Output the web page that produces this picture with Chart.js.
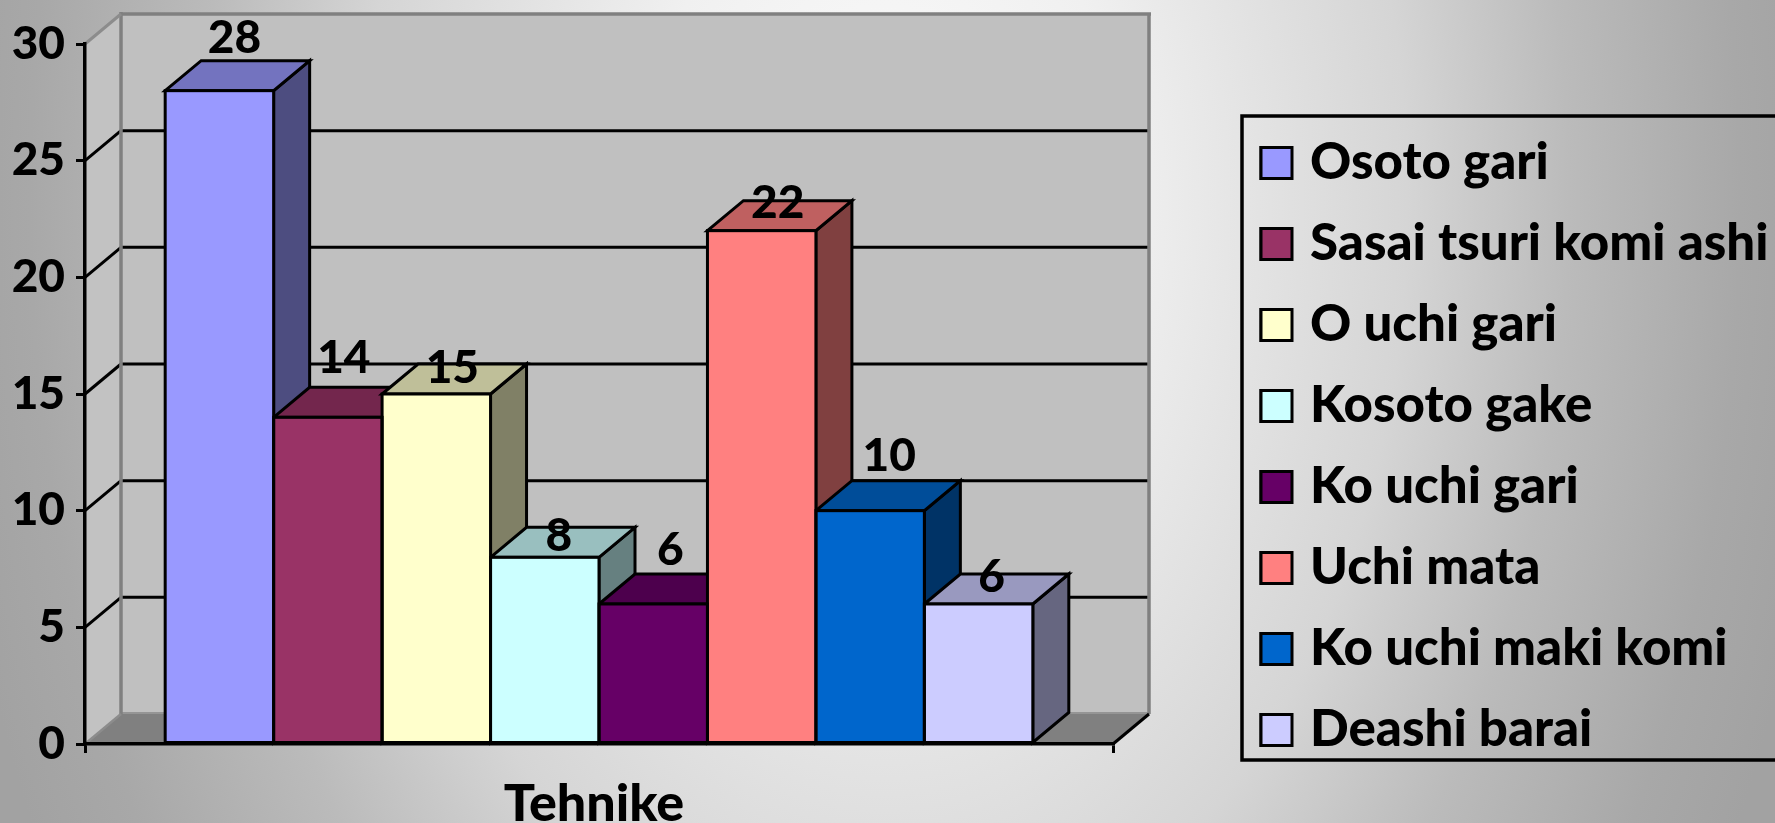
<!DOCTYPE html>
<html>
<head>
<meta charset="utf-8">
<style>html,body{margin:0;padding:0;background:#ccc;overflow:hidden}canvas{display:block}</style>
<script src="https://cdn.jsdelivr.net/npm/chart.js@4/dist/chart.umd.min.js"></script>
</head>
<body>
<canvas id="c" width="1775" height="823"></canvas>
<script>
const categories = ['Tehnike'];
const seriesNames = ['Osoto gari','Sasai tsuri komi ashi','O uchi gari','Kosoto gake','Ko uchi gari','Uchi mata','Ko uchi maki komi','Deashi barai'];
const seriesValues = [28,14,15,8,6,22,10,6];
const seriesColors = ['#9999FF','#993366','#FFFFCC','#CCFFFF','#660066','#FF8080','#0066CC','#CCCCFF'];
const yTicks = [0,5,10,15,20,25,30];

const FONT = 'Lato';
const WEIGHT = 900;
const FS_TEXT = 51;
const FS_NUM = 46;
const DX = 36, DY = 30;
const labelLift = [52,59,26,21,54,27,54,27];
const labelShift = [15,16,16,14,17,16,19,13];

function shade(hex,f){
  const n=parseInt(hex.slice(1),16);
  return `rgb(${Math.round((n>>16&255)*f)},${Math.round((n>>8&255)*f)},${Math.round((n&255)*f)})`;
}
function poly(ctx,pts,fill,stroke,lw){
  ctx.beginPath();
  pts.forEach((p,i)=>i?ctx.lineTo(p[0],p[1]):ctx.moveTo(p[0],p[1]));
  ctx.closePath();
  if(fill){ctx.fillStyle=fill;ctx.fill();}
  if(stroke){ctx.strokeStyle=stroke;ctx.lineWidth=lw;ctx.lineJoin='miter';ctx.stroke();}
}
function line(ctx,x1,y1,x2,y2,col,lw){
  ctx.beginPath();ctx.moveTo(x1,y1);ctx.lineTo(x2,y2);ctx.strokeStyle=col;ctx.lineWidth=lw;ctx.stroke();
}

const scene = {
  id:'scene',
  beforeLayout(chart){
    const l=chart.legend;
    if(l && !l.__wrapped){
      const fit=l.fit.bind(l);
      l.fit=function(){fit();this.width=0;};
      l.__wrapped=true;
    }
  },
  afterLayout(chart){
    const l=chart.legend;
    if(!l) return;
    const left=1231, top=107.5;
    const dx=left-l.left, dy=top-l.top;
    l.left=left;l.top=top;l.right=1775;l.bottom=823;l.width=544;l.height=715.5;
    (l.legendHitBoxes||[]).forEach(b=>{b.left+=dx;b.top+=dy;});
  },
  beforeDraw(chart){
    const ctx=chart.ctx,{width:W,height:H}=chart;
    const x=chart.scales.x,y=chart.scales.y;
    // background
    ctx.save();
    ctx.translate(885,200);ctx.scale(1,1.5);
    const g=ctx.createRadialGradient(0,0,0,0,0,950);
    g.addColorStop(0,'#fbfbfb');g.addColorStop(.25,'#f0f0f0');g.addColorStop(.55,'#d5d5d5');
    g.addColorStop(.72,'#bbbbbb');g.addColorStop(.9,'#a8a8a8');g.addColorStop(1,'#a2a2a2');
    ctx.fillStyle=g;ctx.fillRect(-885,-200,W,H);
    ctx.restore();
    // walls
    const L=x.left,R=x.right,B=y.getPixelForValue(0),T=y.getPixelForValue(30);
    ctx.save();
    ctx.lineCap='butt';
    poly(ctx,[[L+DX,T-DY],[R+DX,T-DY],[R+DX,B-DY],[L+DX,B-DY]],'#c0c0c0');
    poly(ctx,[[L,T],[L+DX,T-DY],[L+DX,B-DY],[L,B]],'#c2c2c2');
    poly(ctx,[[L,B],[L+DX,B-DY],[R+DX,B-DY],[R,B]],'#808080');
    line(ctx,L+DX,B-DY-1,R+DX,B-DY-1,'#6a6a6a',1);
    yTicks.filter(v=>v>0&&v<30).forEach(v=>{
      const p=y.getPixelForValue(v);
      line(ctx,L,p,L+DX,p-DY,'#000',3);
      line(ctx,L+DX,p-DY,R+DX,p-DY,'#000',3);
    });
    line(ctx,L+DX,B-DY,L+DX,T-DY-2,'#808080',3.5);
    line(ctx,L+DX,T-DY,R+DX+2,T-DY,'#808080',3.5);
    line(ctx,R+DX,T-DY,R+DX,B-DY,'#808080',3.5);
    line(ctx,L,T,L+DX,T-DY,'#8c8c8c',3);
    line(ctx,L,B,L+DX,B-DY,'#8c8c8c',2.5);
    line(ctx,R,B,R+DX,B-DY,'#000',3);
    // legend frame
    ctx.strokeStyle='#000';ctx.lineWidth=3.5;
    ctx.strokeRect(1242,116,600,644);
    ctx.restore();
  },
  beforeDatasetsDraw(chart){
    // side and top faces, painted left to right so each bar overlaps the previous one
    const ctx=chart.ctx;
    ctx.save();
    seriesNames.forEach((_,i)=>{
      const bar=chart.getDatasetMeta(i).data[0];
      const col=seriesColors[i];
      const l=bar.x-bar.width/2,r=bar.x+bar.width/2,t=bar.y,b=bar.base;
      poly(ctx,[[r,t],[r+DX,t-DY],[r+DX,b-DY],[r,b]],shade(col,.5),'#000',3);
      poly(ctx,[[l,t],[l+DX,t-DY],[r+DX,t-DY],[r,t]],shade(col,.75),'#000',3);
    });
    ctx.restore();
  },
  afterDatasetsDraw(chart){
    const ctx=chart.ctx;
    ctx.save();
    ctx.strokeStyle='#000';ctx.lineWidth=3;
    seriesNames.forEach((_,i)=>{
      const bar=chart.getDatasetMeta(i).data[0];
      ctx.strokeRect(bar.x-bar.width/2,bar.y,bar.width,bar.base-bar.y);
    });
    ctx.font=`${WEIGHT} ${FS_NUM}px ${FONT}`;ctx.fillStyle='#000';ctx.textAlign='center';ctx.textBaseline='middle';
    seriesNames.forEach((_,i)=>{
      const bar=chart.getDatasetMeta(i).data[0];
      ctx.fillText(String(seriesValues[i]),bar.x+labelShift[i],bar.y-labelLift[i]);
    });
    ctx.restore();
  },
  afterDraw(chart){
    // legend swatches at their full size, over the native keys
    const ctx=chart.ctx,l=chart.legend;
    ctx.save();
    (l.legendHitBoxes||[]).forEach((b,i)=>{
      const cy=b.top+b.height/2;
      ctx.fillStyle=seriesColors[i];ctx.strokeStyle='#000';ctx.lineWidth=3;
      ctx.fillRect(1261,cy-15.5,31,31);ctx.strokeRect(1261,cy-15.5,31,31);
    });
    ctx.restore();
  }
};

new Chart(document.getElementById('c'),{
  type:'bar',
  data:{
    labels:categories,
    datasets:seriesNames.map((name,i)=>({
      label:name,
      data:[seriesValues[i]],
      backgroundColor:seriesColors[i],
      borderWidth:0,
      categoryPercentage:.844,
      barPercentage:1
    }))
  },
  options:{
    responsive:false,
    animation:false,
    layout:{padding:{top:44,right:662,left:0,bottom:0}},
    plugins:{
      tooltip:{enabled:false},
      title:{display:false},
      legend:{
        display:true,
        position:'right',
        align:'start',
        labels:{
          boxWidth:23.5,
          boxHeight:31,
          padding:30,
          color:'#000',
          font:{family:FONT,weight:WEIGHT,size:FS_TEXT,lineHeight:1},
          generateLabels(chart){
            return chart.data.datasets.map((d,i)=>({
              text:d.label,fillStyle:d.backgroundColor,strokeStyle:'#000',lineWidth:3,datasetIndex:i,hidden:false
            }));
          }
        }
      }
    },
    scales:{
      x:{
        afterFit(s){s.height=79;},
        grid:{drawOnChartArea:false,drawTicks:true,tickLength:9,color:'#000',lineWidth:3},
        border:{display:true,color:'#000',width:3.5},
        ticks:{color:'#000',padding:25,labelOffset:-5,maxRotation:0,font:{family:FONT,weight:WEIGHT,size:52,lineHeight:1}}
      },
      y:{
        min:0,max:30,
        afterFit(s){s.width=85;},
        grid:{drawOnChartArea:false,drawTicks:true,tickLength:9,color:'#000',lineWidth:3},
        border:{display:true,color:'#000',width:3.5},
        ticks:{stepSize:5,color:'#000',padding:11,font:{family:FONT,weight:WEIGHT,size:FS_NUM,lineHeight:1}}
      }
    }
  },
  plugins:[scene]
});
</script>
</body>
</html>
